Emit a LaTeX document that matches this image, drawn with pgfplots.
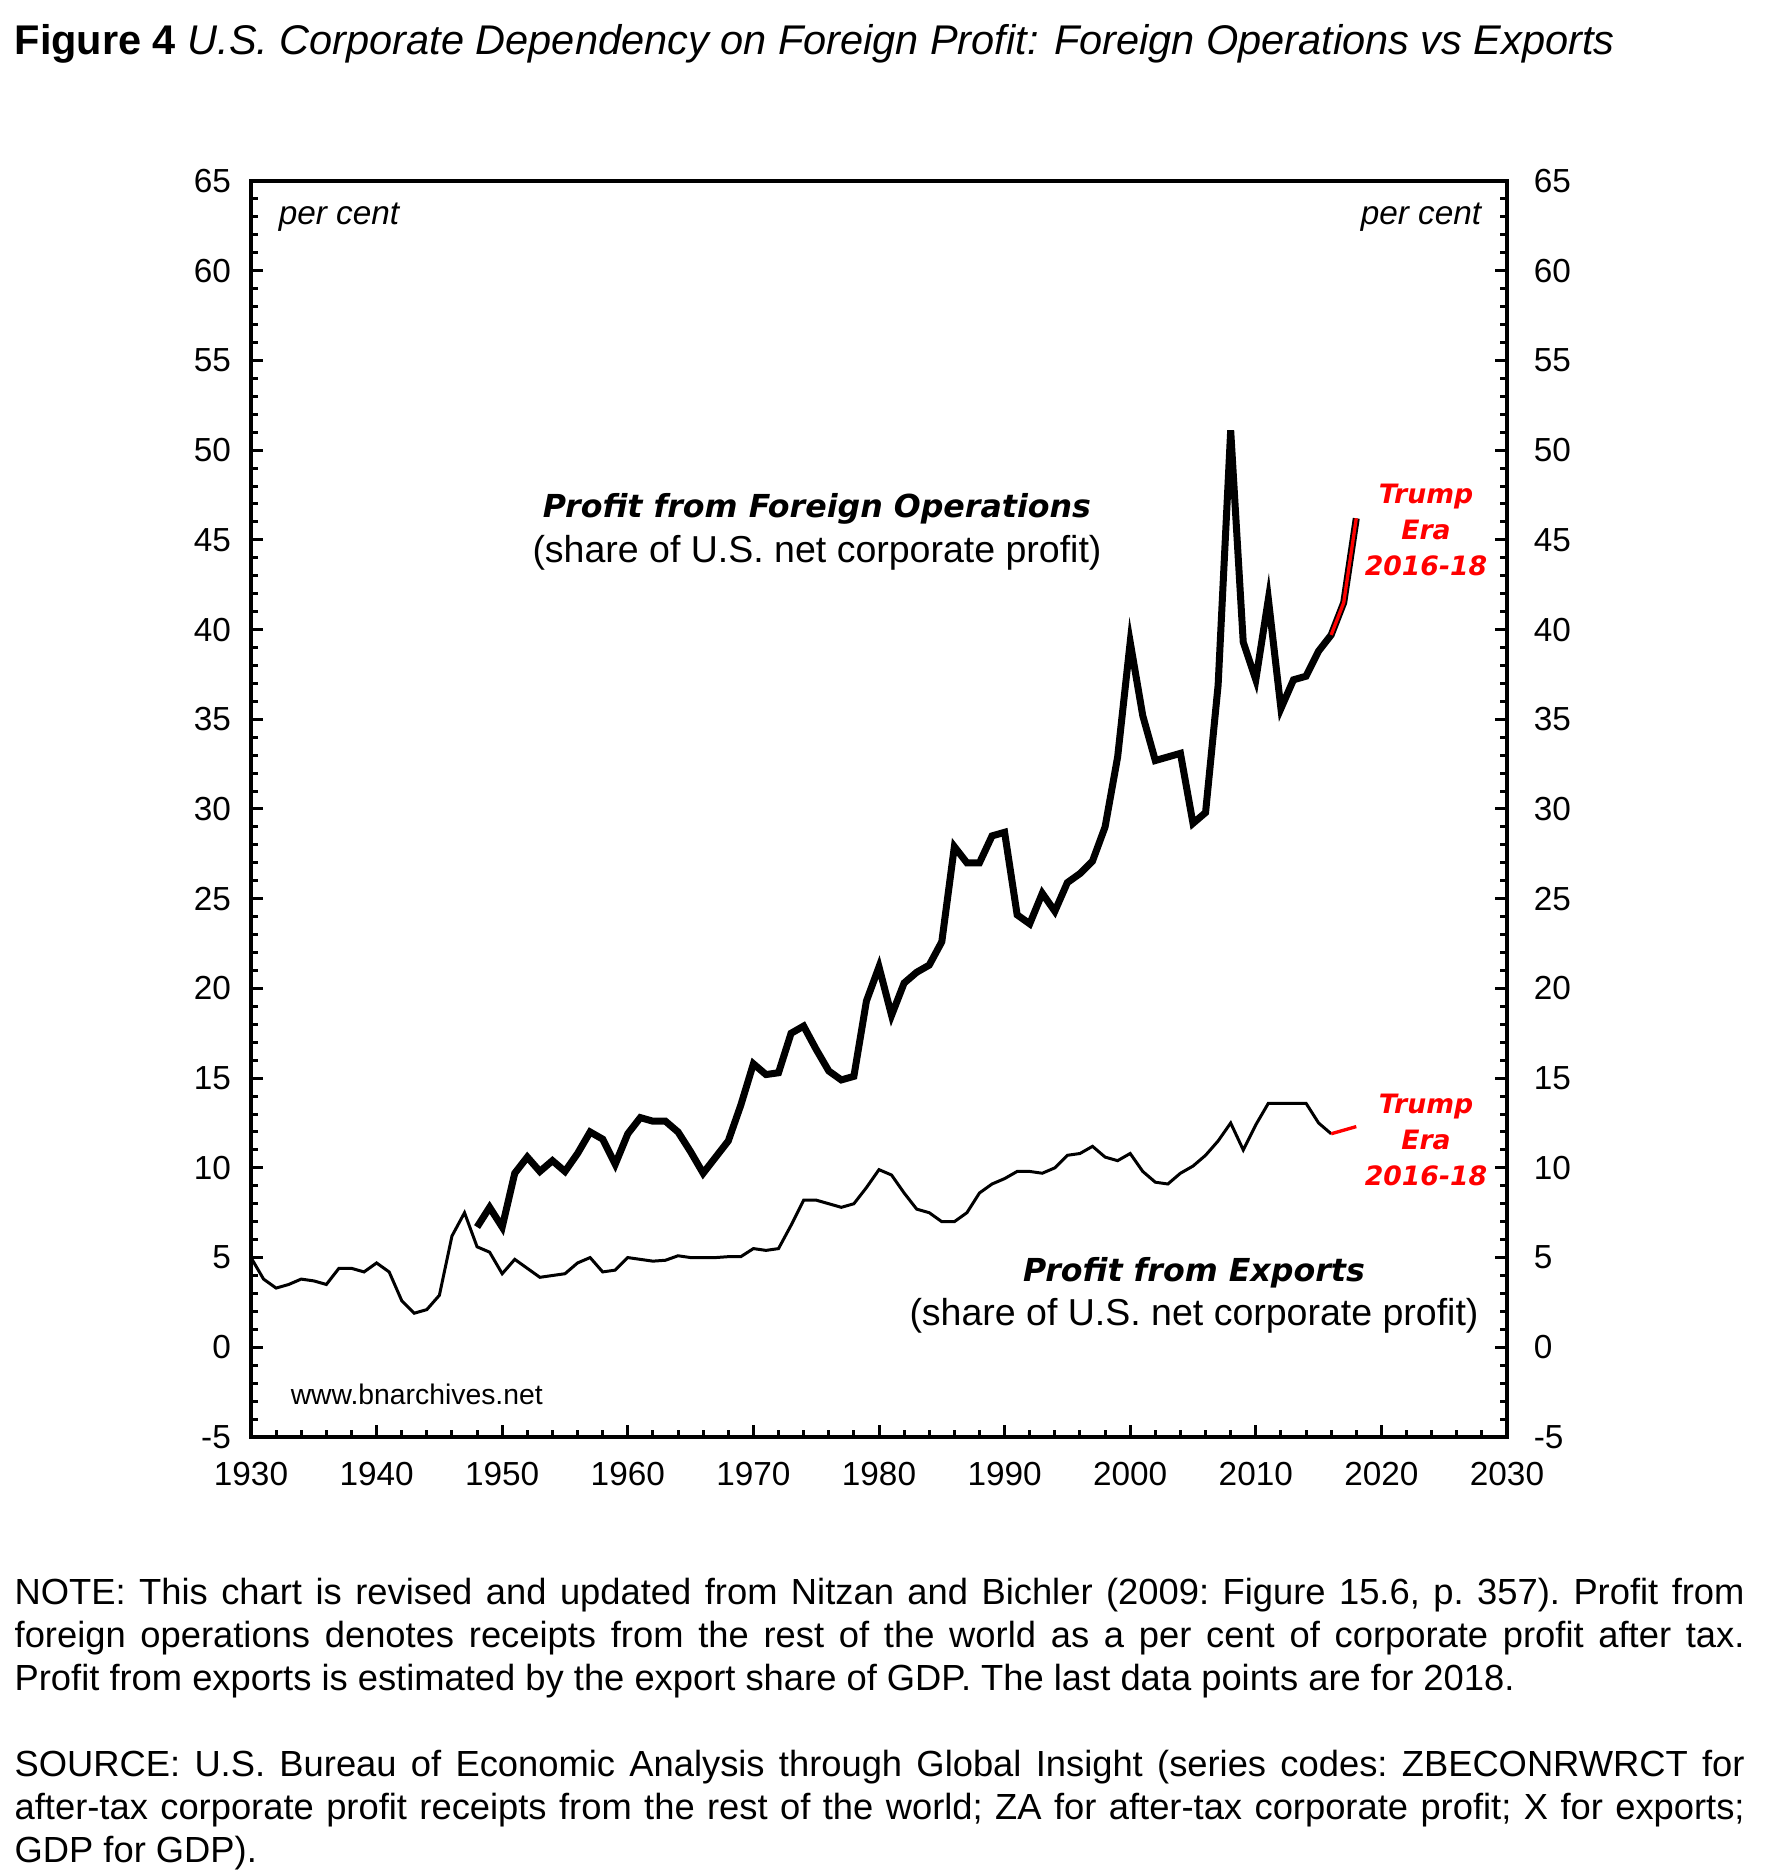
\documentclass[border=0pt]{standalone}
\usepackage{pgfplots}
\pgfplotsset{compat=1.18}
\usepackage{pgfplotstable}
\usepackage{fontspec}
\setmainfont{Liberation Sans}
\newfontfamily\verd{DejaVu Sans}

% profit from foreign operations, % of net corporate profit
\pgfplotstableread{
year val
1948 6.7
1949 7.8
1950 6.7
1951 9.7
1952 10.6
1953 9.8
1954 10.4
1955 9.8
1956 10.8
1957 12.0
1958 11.6
1959 10.2
1960 11.9
1961 12.8
1962 12.6
1963 12.6
1964 12.0
1965 10.9
1966 9.7
1967 10.6
1968 11.5
1969 13.5
1970 15.8
1971 15.2
1972 15.3
1973 17.5
1974 17.9
1975 16.6
1976 15.4
1977 14.9
1978 15.1
1979 19.3
1980 21.2
1981 18.5
1982 20.3
1983 20.9
1984 21.3
1985 22.6
1986 27.9
1987 27.0
1988 27.0
1989 28.5
1990 28.7
1991 24.1
1992 23.6
1993 25.3
1994 24.3
1995 25.9
1996 26.4
1997 27.1
1998 29.0
1999 32.9
2000 39.3
2001 35.2
2002 32.7
2003 32.9
2004 33.1
2005 29.2
2006 29.8
2007 36.9
2008 51.1
2009 39.3
2010 37.2
2011 41.7
2012 35.6
2013 37.2
2014 37.4
2015 38.8
2016 39.7
2017 41.5
2018 46.2
}\foreign

% profit from exports
\pgfplotstableread{
year val
1930 5.0
1931 3.8
1932 3.3
1933 3.5
1934 3.8
1935 3.7
1936 3.5
1937 4.4
1938 4.4
1939 4.2
1940 4.7
1941 4.2
1942 2.6
1943 1.9
1944 2.1
1945 2.9
1946 6.2
1947 7.5
1948 5.6
1949 5.3
1950 4.1
1951 4.9
1952 4.4
1953 3.9
1954 4.0
1955 4.1
1956 4.7
1957 5.0
1958 4.2
1959 4.3
1960 5.0
1961 4.9
1962 4.8
1963 4.85
1964 5.1
1965 5.0
1966 5.0
1967 5.0
1968 5.05
1969 5.05
1970 5.5
1971 5.4
1972 5.5
1973 6.8
1974 8.2
1975 8.2
1976 8.0
1977 7.8
1978 8.0
1979 8.9
1980 9.9
1981 9.6
1982 8.6
1983 7.7
1984 7.5
1985 7.0
1986 7.0
1987 7.5
1988 8.6
1989 9.1
1990 9.4
1991 9.8
1992 9.8
1993 9.7
1994 10.0
1995 10.7
1996 10.8
1997 11.2
1998 10.6
1999 10.4
2000 10.8
2001 9.8
2002 9.2
2003 9.1
2004 9.7
2005 10.1
2006 10.7
2007 11.5
2008 12.5
2009 11.0
2010 12.4
2011 13.6
2012 13.6
2013 13.6
2014 13.6
2015 12.5
2016 11.9
}\exports

\pgfplotstableread{
year val
2016 11.9
2017 12.1
2018 12.3
}\exportstrump

\pgfplotstableread{
year val
2016 39.7
2017 41.5
2018 46.2
}\foreigntrump

\begin{document}
\begin{tikzpicture}
\path[use as bounding box] (-75.3pt,-131.4pt) rectangle (454.2pt,431.1pt);
\pgfplotsset{
    base/.style={
        at={(0pt,0pt)}, anchor=south west,
        scale only axis, width=376.8pt, height=376.8pt,
        xmin=1930, xmax=2030, ymin=-5, ymax=65,
        ytick={-5,0,...,65},
        minor y tick num=4,
        tick align=inside,
        major tick length=3.5pt, minor tick length=2pt,
        every tick/.style={black, line width=0.9pt},
        /pgf/number format/1000 sep={},
        /pgf/number format/assume math mode=true,
        tick label style={font=\fontsize{10}{12}\selectfont},
    },
}
\begin{axis}[ % main box
    base,
    axis line style={line width=1pt},
    xtick={1930,1940,...,2030},
    minor x tick num=4,
    xtick pos=lower, ytick pos=left,
    xticklabel style={yshift=-4pt},
    yticklabel style={xshift=-2.5pt},
]
    \addplot[black, line width=0.9pt] table {\exports};
    \addplot[red, line width=1pt] table {\exportstrump};
    \addplot[black, line width=2.1pt] table {\foreign};
    \addplot[red, line width=1pt] table {\foreigntrump};
\end{axis}

\begin{axis}[ % right labels
    base,
    axis x line=none,
    axis y line*=right,
    axis line style={line width=1pt},
    yticklabel style={xshift=4.5pt},
]
\end{axis}

% title
\node[anchor=base west, inner sep=0pt, font=\fontsize{12.45}{14}\selectfont]
    at (-71.1pt,414.6pt) {\textbf{Figure 4} \textit{U.S. Corporate Dependency on Foreign Profit: Foreign Operations vs Exports}};

% in-plot texts
\node[anchor=west, font=\fontsize{10}{12}\selectfont\itshape] at (4.8pt,365.9pt) {per cent};
\node[anchor=east, font=\fontsize{10}{12}\selectfont\itshape] at (372.6pt,365.9pt) {per cent};
\node[anchor=west, font=\fontsize{8.5}{10}\selectfont] at (8.4pt,12.75pt) {www.bnarchives.net};

\node[font=\fontsize{9.5}{12}\selectfont\verd\bfseries\itshape] at (169.8pt,278.4pt) {Profit from Foreign Operations};
\node[font=\fontsize{11.25}{13}\selectfont] at (169.8pt,265.4pt) {(share of U.S. net corporate profit)};
\node[font=\fontsize{9.5}{12}\selectfont\verd\bfseries\itshape] at (282.9pt,49.4pt) {Profit from Exports};
\node[font=\fontsize{11.25}{13}\selectfont] at (282.9pt,36.5pt) {(share of U.S. net corporate profit)};

\node[red, align=center, font=\fontsize{8}{10.8}\selectfont\verd\bfseries\itshape] at (352.5pt,272.1pt) {Trump\\Era\\2016-18};
\node[red, align=center, font=\fontsize{8}{10.8}\selectfont\verd\bfseries\itshape] at (352.5pt,89.1pt) {Trump\\Era\\2016-18};

% notes
\node[anchor=north west, inner sep=0pt, text width=519pt, align=justify, font=\fontsize{10.9}{12.9}\selectfont\frenchspacing]
    at (-71.1pt,-42.2pt) {NOTE: This chart is revised and updated from Nitzan and Bichler (2009: Figure 15.6, p. 357). Profit from\linebreak foreign operations denotes receipts from the rest of the world as a per cent of corporate profit after tax.\linebreak Profit from exports is estimated by the export share of GDP. The last data points are for 2018.};
\node[anchor=north west, inner sep=0pt, text width=519pt, align=justify, font=\fontsize{10.9}{12.9}\selectfont\frenchspacing]
    at (-71.1pt,-93.8pt) {SOURCE: U.S. Bureau of Economic Analysis through Global Insight (series codes: ZBECONRWRCT for\linebreak after-tax corporate profit receipts from the rest of the world; ZA for after-tax corporate profit; X for exports;\linebreak GDP for GDP).};
\end{tikzpicture}
\end{document}
